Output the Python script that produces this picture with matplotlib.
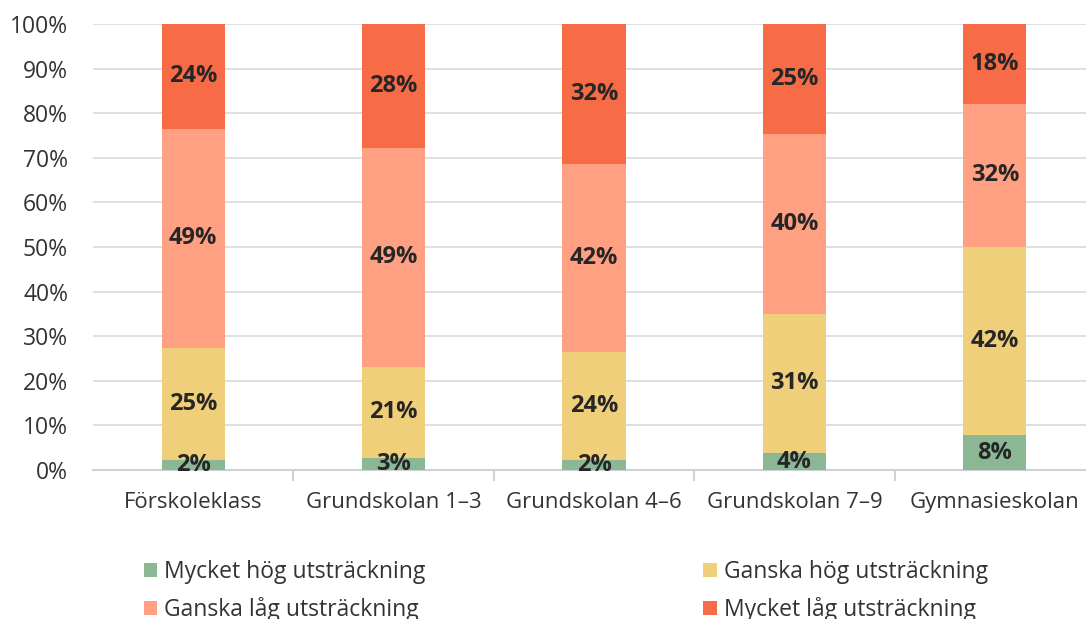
import matplotlib.pyplot as plt
import numpy as np

plt.rcParams['font.family'] = ['Open Sans', 'DejaVu Sans']

categories = ['Förskoleklass', 'Grundskolan 1–3', 'Grundskolan 4–6',
              'Grundskolan 7–9', 'Gymnasieskolan']
series_names = ['Mycket hög utsträckning', 'Ganska hög utsträckning',
                'Ganska låg utsträckning', 'Mycket låg utsträckning']
mycket_hog = [2.2, 2.7, 2.2, 3.8, 7.8]
ganska_hog = [25.2, 20.4, 24.3, 31.2, 42.2]
ganska_lag = [49.1, 49.1, 42.1, 40.3, 32.1]
mycket_lag = [23.5, 27.8, 31.4, 24.7, 17.9]
labels = [['2%', '3%', '2%', '4%', '8%'],
          ['25%', '21%', '24%', '31%', '42%'],
          ['49%', '49%', '42%', '40%', '32%'],
          ['24%', '28%', '32%', '25%', '18%']]
colors = ['#8BB794', '#F0CF7B', '#FFA083', '#F76C47']

fig = plt.figure(figsize=(10.86, 6.19), dpi=100)
ax = fig.add_axes([93 / 1086, 149 / 619, 1002 / 1086, 446 / 619])

x = np.arange(len(categories))
bottom = np.zeros(len(categories))
handles = []
for vals, name, col, labs in zip([mycket_hog, ganska_hog, ganska_lag, mycket_lag],
                                 series_names, colors, labels):
    vals = np.array(vals)
    b = ax.bar(x, vals, 0.315, bottom=bottom, color=col, label=name, zorder=2)
    handles.append(b)
    for xi, v, bt, lab in zip(x, vals, bottom, labs):
        ax.text(xi, bt + v / 2, lab, ha='center', va='center', fontsize=17,
                fontweight='bold', color='#262626', zorder=3)
    bottom += vals

ax.set_xlim(-0.5, len(categories) - 0.5)
ax.set_ylim(0, 100)
ax.set_yticks(range(0, 101, 10))
ax.set_yticklabels([f'{v}%' for v in range(0, 101, 10)])
ax.yaxis.grid(True, color='#D9DCDC', linewidth=1.2, zorder=0)
ax.set_axisbelow(True)
for s in ['top', 'right', 'left']:
    ax.spines[s].set_visible(False)
ax.spines['bottom'].set_color('#CDD2D2')
ax.spines['bottom'].set_linewidth(1.5)
ax.spines['bottom'].set_zorder(1)
ax.tick_params(axis='y', length=0, labelsize=16.5, labelcolor='#333333', pad=18)
ax.set_xticks(x)
ax.set_xticklabels(categories)
ax.tick_params(axis='x', which='major', length=0, labelsize=16,
               labelcolor='#333333', pad=16)
ax.set_xticks(np.arange(0.5, len(categories) - 0.5, 1), minor=True)
ax.tick_params(axis='x', which='minor', length=8, width=1.5, color='#CDD2D2')

# legend fills column-wise, so reorder to get row-wise order
order = [0, 2, 1, 3]
fig.legend(handles=[handles[i] for i in order], loc='lower left',
           bbox_to_anchor=(123 / 1086, -0.038),
           ncol=2, frameon=False, fontsize=16.5, handlelength=0.6,
           handleheight=0.6, handletextpad=0.3, columnspacing=12.1,
           labelspacing=0.55, labelcolor='#333333')

fig.savefig('out.png', dpi=100)
